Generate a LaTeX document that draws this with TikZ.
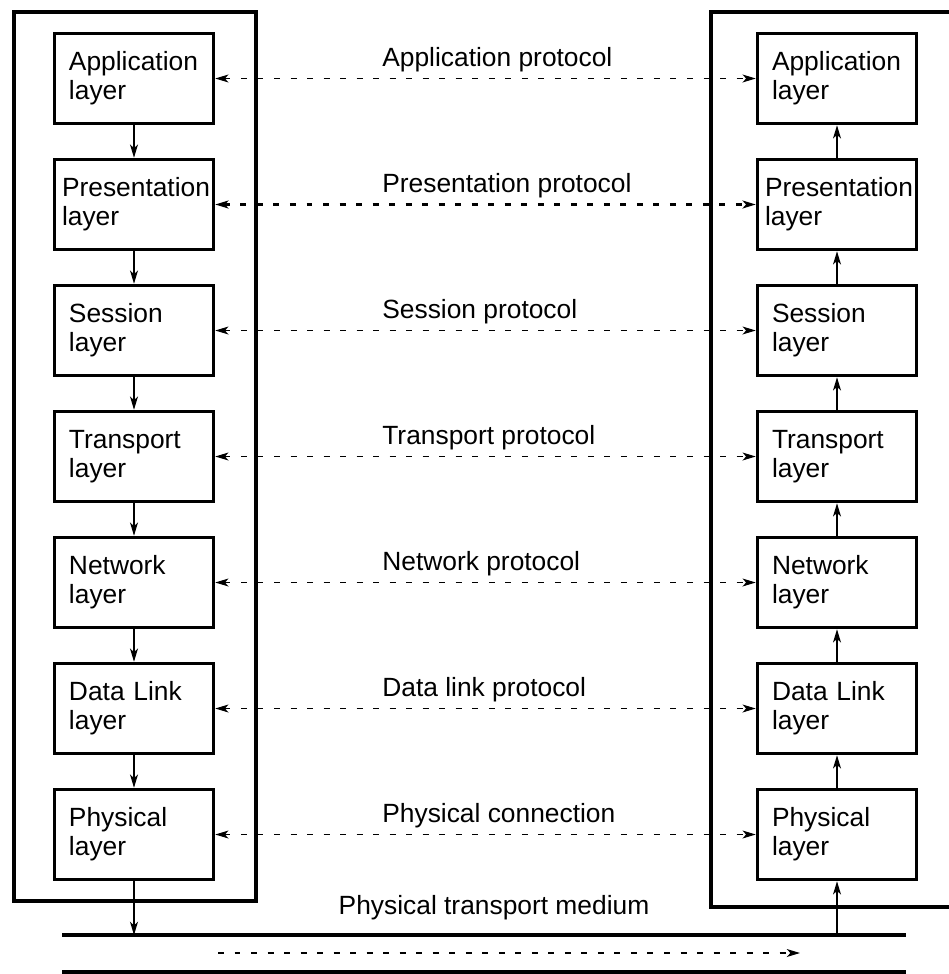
\documentclass[tikz,border=0pt]{standalone}
\usepackage{fontspec}
\setmainfont{Liberation Sans}
\usepackage{tikz}
\usetikzlibrary{arrows.meta}

\begin{document}
\begin{tikzpicture}[
    font=\fontsize{15}{16.5}\selectfont,
    layer/.style={draw,line width=2pt,minimum width=3.18cm,minimum height=1.8cm,
      text width=2.6cm,align=left,inner sep=0pt},
    wide/.style={text width=2.88cm},
    proto/.style={anchor=base west,inner sep=0pt},
    down/.style={-{Stealth[length=7.5pt,width=4.5pt,inset=2pt]},solid,line width=0.7pt},
    peer/.style={{Stealth[length=7.5pt,width=4.5pt,inset=2pt]}-{Stealth[length=7.5pt,width=4.5pt,inset=2pt]},
      dash pattern=on 3.4pt off 6pt,line width=0.6pt},
    flow/.style={-{Stealth[length=7.5pt,width=4.5pt,inset=2pt]},dash pattern=on 3.4pt off 6pt,line width=0.6pt},
    wire/.style={line width=2.3pt}
  ]
    \useasboundingbox (0,0) rectangle (18.96,-19.48);

    % sending stack
    \node[layer] (1) at (2.68,-1.57) {Application\\layer};
    \node[layer,wide] (2) at (2.68,-4.09) {Presentation\\layer};
    \node[layer] (3) at (2.68,-6.61) {Session\\layer};
    \node[layer] (4) at (2.68,-9.13) {Transport\\layer};
    \node[layer] (5) at (2.68,-11.65) {Network\\layer};
    \node[layer] (6) at (2.68,-14.17) {Data Link\\layer};
    \node[layer] (7) at (2.68,-16.69) {Physical\\layer};

    % receiving stack
    \node[layer] (8) at (16.74,-1.57) {Application\\layer};
    \node[layer,wide] (9) at (16.74,-4.09) {Presentation\\layer};
    \node[layer] (10) at (16.74,-6.61) {Session\\layer};
    \node[layer] (11) at (16.74,-9.13) {Transport\\layer};
    \node[layer] (12) at (16.74,-11.65) {Network\\layer};
    \node[layer] (13) at (16.74,-14.17) {Data Link\\layer};
    \node[layer] (14) at (16.74,-16.69) {Physical\\layer};

    \draw[wire] (0.28,-0.24) rectangle (5.12,-18.02);
    \draw[wire] (19.1,-0.24) -- (14.22,-0.24) -- (14.22,-18.14) -- (19.1,-18.14);

    % medium
    \coordinate (m1) at (1.24,-18.7);
    \coordinate (m2) at (18.12,-18.7);
    \coordinate (b1) at (1.24,-19.45);
    \coordinate (b2) at (18.12,-19.45);
    \coordinate (d1) at (4.36,-19.06);
    \coordinate (d2) at (16.0,-19.06);
    \draw[wire] (m1) -- (m2);
    \draw[wire] (b1) -- (b2);
    \draw[flow] (d1) -- (d2);

    \node[proto] (p1) at (7.64,-1.32) {Application protocol};
    \node[proto] (p2) at (7.64,-3.84) {Presentation protocol};
    \node[proto] (p3) at (7.64,-6.36) {Session protocol};
    \node[proto] (p4) at (7.64,-8.88) {Transport protocol};
    \node[proto] (p5) at (7.64,-11.40) {Network protocol};
    \node[proto] (p6) at (7.64,-13.92) {Data link protocol};
    \node[proto] (p7) at (7.64,-16.44) {Physical connection};
    \node[anchor=base] (tm) at (9.88,-18.28) {Physical transport medium};

    \path
    (1) edge [down] (2)
    (2) edge [down] (3)
    (3) edge [down] (4)
    (4) edge [down] (5)
    (5) edge [down] (6)
    (6) edge [down] (7)
    (7) edge [down] (7.south |- m1)
    (14.south |- m2) edge [down] (14)
    (14) edge [down] (13)
    (13) edge [down] (12)
    (12) edge [down] (11)
    (11) edge [down] (10)
    (10) edge [down] (9)
    (9) edge [down] (8)
    (1) edge [peer] (8)
    (2) edge [peer,line width=1.4pt] (9)
    (3) edge [peer] (10)
    (4) edge [peer] (11)
    (5) edge [peer] (12)
    (6) edge [peer] (13)
    (7) edge [peer] (14)
    ;
  \end{tikzpicture}
\end{document}
